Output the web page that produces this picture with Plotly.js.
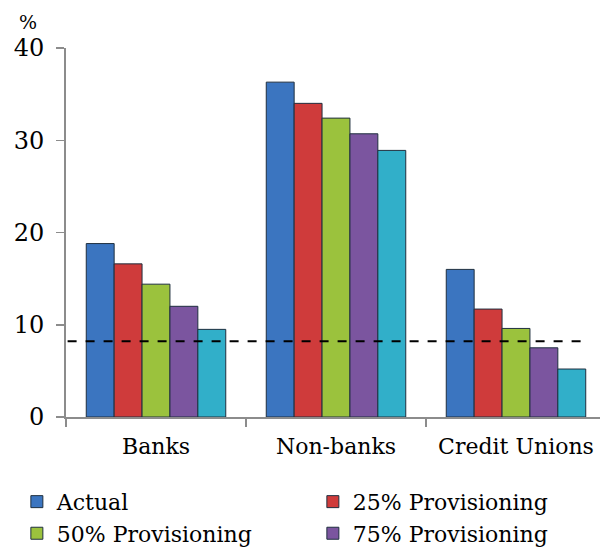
<!DOCTYPE html>
<html><head><meta charset="utf-8">
<script src="https://cdn.plot.ly/plotly-3.0.1.min.js"></script>
<style>html,body{margin:0;padding:0;background:#fff}#chart{width:600px;height:550px}</style>
</head><body><div id="chart"></div>
<script>
const categories = ["Banks", "Non-banks", "Credit Unions"];
const seriesNames = ["Actual", "25% Provisioning", "50% Provisioning", "75% Provisioning", "100% Provisioning"];
const actual = [18.8, 36.3, 16.0];
const prov25 = [16.6, 34.0, 11.7];
const prov50 = [14.4, 32.4, 9.6];
const prov75 = [12.0, 30.7, 7.5];
const prov100 = [9.5, 28.9, 5.2];
const threshold = 8.2;
const yTicks = [0, 10, 20, 30, 40];

const colors = ["#3b75c0", "#cf3b3b", "#9bc23d", "#7b559f", "#31afc9"];
const values = [actual, prov25, prov50, prov75, prov100];
const font = "DejaVu Serif";

const traces = values.map((v, i) => ({
  type: "bar", name: seriesNames[i], x: categories, y: v,
  marker: {color: colors[i], line: {color: "#1f2f3f", width: 1}},
  hoverinfo: "skip"
}));

const layout = {
  width: 600, height: 550,
  margin: {l: 66, r: 0, t: 48, b: 133, autoexpand: false},
  paper_bgcolor: "#fff", plot_bgcolor: "#fff",
  barmode: "group", bargap: 0.225, bargroupgap: 0,
  font: {family: font, color: "#000", size: 22},
  xaxis: {
    type: "category", range: [-0.5, 2.4667], showgrid: false,
    showline: true, linecolor: "#8c8c8c", linewidth: 2,
    ticks: "outside", tickson: "boundaries", ticklen: 8, tickcolor: "#8c8c8c", tickwidth: 1.5,
    tickangle: 0, tickfont: {size: 22, family: font, color: "#000"}, ticklabelstandoff: 9
  },
  yaxis: {
    range: [0, 40], tickvals: yTicks, showgrid: false, zeroline: false,
    showline: true, linecolor: "#8c8c8c", linewidth: 2,
    ticks: "outside", ticklen: 8, tickcolor: "#8c8c8c", tickwidth: 1.5,
    tickfont: {size: 24, family: font, color: "#000"}, ticklabelstandoff: 7
  },
  shapes: [{type: "line", xref: "paper", yref: "y", x0: 0.003, x1: 0.98, y0: threshold, y1: threshold,
    line: {color: "#000", width: 2, dash: "dash"}}],
  annotations: [{text: "%", xref: "paper", yref: "paper", x: 0, y: 1.0705, xshift: -38,
    xanchor: "center", yanchor: "middle", showarrow: false, font: {size: 19, family: font, color: "#000"}}],
  showlegend: true,
  legend: {orientation: "h", x: -0.092, xanchor: "left", y: -0.173, yanchor: "top",
    entrywidth: 251, entrywidthmode: "pixels", font: {size: 22, family: font, color: "#000"},
    itemwidth: 30, tracegroupgap: 0, bgcolor: "rgba(0,0,0,0)"}
};
Plotly.newPlot("chart", traces, layout, {displayModeBar: false, staticPlot: true});
</script></body></html>
